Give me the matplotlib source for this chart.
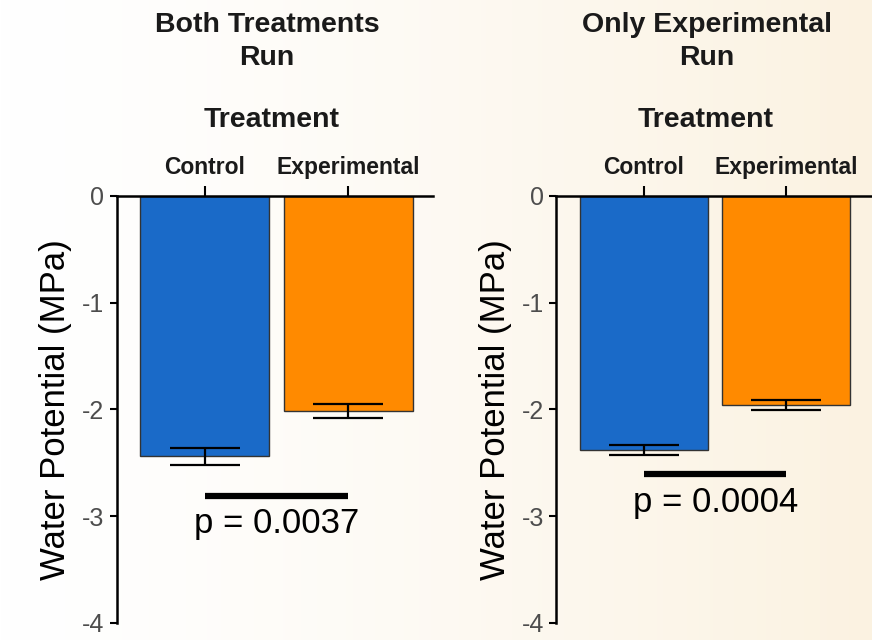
import numpy as np
import matplotlib
matplotlib.use("Agg")
import matplotlib.pyplot as plt
from matplotlib.colors import to_rgb

plt.rcParams['font.family'] = ['Liberation Sans', 'DejaVu Sans']
plt.rcParams['axes.unicode_minus'] = False

# donnees
treatments = ["Control", "Experimental"]
panel_titles = ["Both Treatments\nRun", "Only Experimental\nRun"]
means_both = [-2.44, -2.02]
se_both = [0.08, 0.065]
means_only = [-2.38, -1.96]
se_only = [0.045, 0.05]
sig_y = [-2.81, -2.61]
p_labels = ["p = 0.0037", "p = 0.0004"]
yticks = [0, -1, -2, -3, -4]

bar_colors = ["#1A6AC8", "#FF8A00"]

fig = plt.figure(figsize=(8.72, 6.4), dpi=100)

# fond degrade blanc -> creme
bg = fig.add_axes([0, 0, 1, 1], zorder=-10)
w0 = np.array(to_rgb("#FFFFFF"))
w1 = np.array(to_rgb("#FBF2E1"))
gx = np.linspace(0, 1, 300) ** 1.3
img = w0[None, :] * (1 - gx[:, None]) + w1[None, :] * gx[:, None]
bg.imshow(img[None, :, :], aspect="auto", extent=[0, 1, 0, 1])
bg.axis("off")

panels = [
    (fig.add_axes([0.134, 0.027, 0.363, 0.667]), means_both, se_both, 0.475, 0.49),
    (fig.add_axes([0.638, 0.027, 0.361, 0.667]), means_only, se_only, 0.479, 0.473),
]

for i, (ax, means, se, tx, trx) in enumerate(panels):
    ax.set_facecolor("none")
    x = np.arange(len(treatments))
    ax.bar(x, means, width=0.9, color=bar_colors, edgecolor="#333333", linewidth=1)
    ax.errorbar(x, means, yerr=se, fmt="none", ecolor="black", elinewidth=1.6,
                capsize=25, capthick=1.6)
    ax.plot([0, 1], [sig_y[i], sig_y[i]], color="black", lw=4.5, solid_capstyle="butt")
    ax.text(0.5, sig_y[i] - 0.11, p_labels[i], ha="center", va="top", fontsize=25)

    ax.set_xlim(-0.615, 1.595)
    ax.set_ylim(-4, 0)
    ax.set_yticks(yticks)
    ax.set_yticklabels([str(v) for v in yticks], color="#4D4D4D", fontsize=18)
    ax.xaxis.tick_top()
    ax.set_xticks(x)
    ax.set_xticklabels(treatments, fontsize=16.5, fontweight="bold", color="#1A1A1A")
    ax.tick_params(axis="x", length=7, width=1.5, pad=5, direction="out")
    ax.tick_params(axis="y", length=5, width=1.5, pad=4, direction="out")
    for s in ["right", "bottom"]:
        ax.spines[s].set_visible(False)
    for s in ["left", "top"]:
        ax.spines[s].set_linewidth(1.8)
    ax.set_ylabel("Water Potential (MPa)", fontsize=25, labelpad=7)

    ax.text(tx, 1.362, panel_titles[i], transform=ax.transAxes, ha="center", va="center",
            fontsize=20.5, fontweight="bold", color="#1A1A1A", linespacing=1.35)
    ax.text(trx, 1.178, "Treatment", transform=ax.transAxes, ha="center", va="center",
            fontsize=20.5, fontweight="bold", color="#1A1A1A")

fig.savefig("out.png", dpi=100)
